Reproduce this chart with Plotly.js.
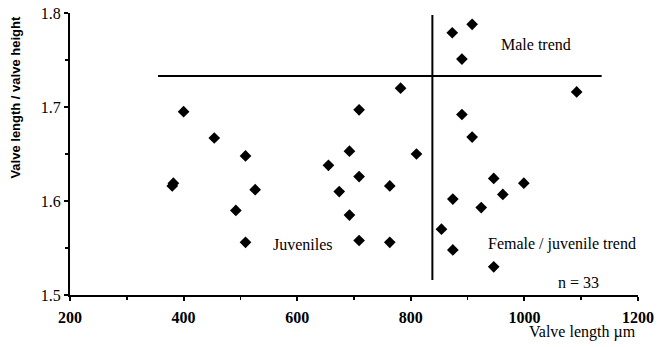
<!DOCTYPE html>
<html>
<head>
<meta charset="utf-8">
<script src="https://cdn.plot.ly/plotly-3.0.1.min.js"></script>
<style>
html,body{margin:0;padding:0;background:#fff;}
#chart{width:659px;height:347px;}
</style>
</head>
<body>
<div id="chart"></div>
<script>
// Valve length (µm)
var valveLength = [873, 908, 890, 782, 400, 709, 890, 454, 908, 509, 692, 810, 655, 709,
                   380, 382, 526, 674, 763, 492, 692, 509, 709, 763, 874, 854, 874,
                   946, 999, 962, 924, 946, 1092];
// Valve length / valve height
var lengthHeightRatio = [1.779, 1.788, 1.751, 1.720, 1.695, 1.697, 1.692, 1.667, 1.668, 1.648, 1.653, 1.650, 1.638, 1.626,
                         1.616, 1.619, 1.612, 1.610, 1.616, 1.590, 1.585, 1.556, 1.558, 1.556, 1.602, 1.570, 1.548,
                         1.624, 1.619, 1.607, 1.593, 1.530, 1.716];

// Trend divider lines
var hLineX = [355, 1136];
var hLineY = [1.733, 1.733];
var vLineX = [838, 838];
var vLineY = [1.516, 1.798];

var xTickVals = [200, 400, 600, 800, 1000, 1200];
var yTickVals = [1.5, 1.6, 1.7, 1.8];
var yTickText = ['1.5', '1.6', '1.7', '1.8'];

var labelTexts = ['Male trend', 'Juveniles', 'Female / juvenile trend', 'n = 33'];
var labelX = [1021, 611, 1067, 1096];
var labelY = [1.767, 1.554, 1.554, 1.513];

var serif = '"Liberation Serif", "Times New Roman", serif';

var traces = [
  {
    x: valveLength, y: lengthHeightRatio, type: 'scatter', mode: 'markers',
    marker: {symbol: 'diamond', size: 9, color: '#000'},
    hoverinfo: 'skip', showlegend: false
  },
  {
    x: hLineX, y: hLineY, type: 'scatter', mode: 'lines',
    line: {color: '#000', width: 2}, hoverinfo: 'skip', showlegend: false
  },
  {
    x: vLineX, y: vLineY, type: 'scatter', mode: 'lines',
    line: {color: '#000', width: 2}, hoverinfo: 'skip', showlegend: false
  }
];

var annotations = labelTexts.map(function(t, i){
  return {x: labelX[i], y: labelY[i], xref: 'x', yref: 'y', text: t, showarrow: false,
          font: {family: serif, size: 16, color: '#000'}};
});
annotations.push({
  xref: 'paper', yref: 'paper', x: 1, y: 0, xanchor: 'right', yanchor: 'top', yshift: -26,
  text: 'Valve length µm', showarrow: false, font: {family: serif, size: 16, color: '#000'}
});
annotations.push({
  xref: 'paper', yref: 'paper', x: 0, y: 0.7, xanchor: 'center', yanchor: 'middle', xshift: -54,
  textangle: -90, text: 'Valve length / valve height', showarrow: false,
  font: {family: '"Liberation Sans Narrow", "Liberation Sans", Arial, sans-serif', size: 13, color: '#000', weight: 'bold'}
});

var layout = {
  width: 659, height: 347,
  margin: {l: 70, r: 21, t: 13, b: 52},
  paper_bgcolor: '#fff', plot_bgcolor: '#fff',
  showlegend: false,
  xaxis: {
    range: [200, 1200], showgrid: false, zeroline: false,
    showline: true, linecolor: '#000', linewidth: 2,
    ticks: 'outside', ticklen: 4, tickwidth: 2, tickcolor: '#000',
    tickvals: xTickVals, ticklabelstandoff: 3,
    minor: {dtick: 100, ticks: 'outside', ticklen: 3, tickwidth: 1.5, tickcolor: '#000'},
    tickfont: {family: serif, size: 16, color: '#000', weight: 'bold'}
  },
  yaxis: {
    range: [1.5, 1.8], showgrid: false, zeroline: false,
    showline: true, linecolor: '#000', linewidth: 2,
    ticks: 'outside', ticklen: 4, tickwidth: 2, tickcolor: '#000',
    tickvals: yTickVals, ticktext: yTickText,
    minor: {dtick: 0.05, ticks: 'outside', ticklen: 3, tickwidth: 1.5, tickcolor: '#000'},
    tickfont: {family: serif, size: 16, color: '#000'}
  },
  annotations: annotations
};

Plotly.newPlot('chart', traces, layout, {displayModeBar: false, staticPlot: true});
</script>
</body>
</html>
